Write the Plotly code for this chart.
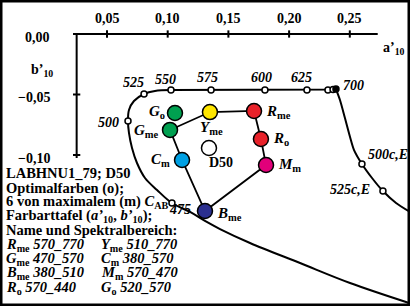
import plotly.graph_objects as go

# ---------------- data ----------------
# optimal colour boundary (a'10, b'10), lower-right branch -> 475 -> 500 -> 525 -> 550
left_a = [0.2988, 0.2502, 0.2090, 0.1678, 0.1431, 0.1307, 0.1184, 0.1035, 0.0912, 0.0813,
          0.0747, 0.0706, 0.0681, 0.0673, 0.0681, 0.0722, 0.0805, 0.0895, 0.1027]
left_b = [-0.2223, -0.2058, -0.1893, -0.1727, -0.1612, -0.1545, -0.1471, -0.1397, -0.1289, -0.1190,
          -0.1066, -0.0942, -0.0818, -0.0719, -0.0628, -0.0554, -0.0496, -0.0471, -0.0463]
# top branch 550 -> 700
top_a = [0.1027, 0.1357, 0.1801, 0.2147, 0.2320, 0.2362, 0.2386]
top_b = [-0.0463, -0.0463, -0.0463, -0.0463, -0.0463, -0.0459, -0.0455]
# right branch 700 -> 500c,E -> 525c,E -> edge
right_a = [0.2386, 0.2419, 0.2460, 0.2502, 0.2535, 0.2600, 0.2683, 0.2773, 0.2881, 0.2996]
right_b = [-0.0455, -0.0545, -0.0694, -0.0851, -0.0959, -0.1074, -0.1190, -0.1298, -0.1397, -0.1471]

# wavelength marks
wl_names = ["475", "500", "525", "550", "575", "600", "625", "", "", "700", "500c,E", "525c,E"]
wl_a = [0.1035, 0.0673, 0.0805, 0.1027, 0.1357, 0.1801, 0.2147, 0.2320, 0.2362, 0.2386, 0.2600, 0.2773]
wl_b = [-0.1397, -0.0719, -0.0496, -0.0463, -0.0463, -0.0463, -0.0463, -0.0463, -0.0459, -0.0455, -0.1074, -0.1298]

# colour samples (hexagon order)
hex_names = ["G", "Y", "R", "R", "M", "B", "C"]
hex_subs = ["me", "me", "me", "o", "m", "me", "m"]
hex_a = [0.1019, 0.1348, 0.1711, 0.1768, 0.1810, 0.1307, 0.1118]
hex_b = [-0.0793, -0.0645, -0.0636, -0.0868, -0.1083, -0.1463, -0.1041]
hex_colors = ["#00A050", "#FFE600", "#E8222A", "#E8222A", "#E2007A", "#2B2F8F", "#00A0E3"]

go_a, go_b = 0.1060, -0.0653       # G_o (not connected)
d50_a, d50_b = 0.1340, -0.0942     # D50 white point

x_ticks = [0.05, 0.10, 0.15, 0.20, 0.25]
x_tick_labels = ["0,05", "0,10", "0,15", "0,20", "0,25"]
y_ticks = [0.00, -0.05, -0.10]
y_tick_labels = ["0,00", "−0,05", "−0,10"]

info_lines = ["LABHNU1_79; D50", "Optimalfarben (o);",
              "6 von maximalem (m) <i>C</i><sub>AB</sub>",
              "Farbarttafel (<i>a’</i><sub>10</sub>, <i>b’</i><sub>10</sub>);",
              "Name und Spektralbereich:"]
range_col1 = [("R", "me", "570_770"), ("G", "me", "470_570"), ("B", "me", "380_510"), ("R", "o", "570_440")]
range_col2 = [("Y", "me", "510_770"), ("C", "m", "380_570"), ("M", "m", "570_470"), ("G", "o", "520_570")]

# ---------------- figure ----------------
W, H = 410, 306
PX_A = 1214.0   # pixels per unit a'
PX_B = 1210.0
A0 = -46.3 / PX_A
xr = [A0, A0 + W / PX_A]
yr = [-(H - 34) / PX_B, 34 / PX_B]
FONT = "Liberation Serif"

fig = go.Figure()

# axes
fig.add_trace(go.Scatter(x=[0.022, 0.273], y=[0, 0], mode="lines",
                         line=dict(color="black", width=2), hoverinfo="skip"))
fig.add_trace(go.Scatter(x=[0.025, 0.025], y=[0, -0.1025], mode="lines",
                         line=dict(color="black", width=2), hoverinfo="skip"))
tx, ty = [], []
for t in x_ticks:
    tx += [t, t, None]
    ty += [0.003, -0.003, None]
for t in y_ticks[1:]:
    tx += [0.022, 0.028, None]
    ty += [t, t, None]
fig.add_trace(go.Scatter(x=tx, y=ty, mode="lines", line=dict(color="black", width=2), hoverinfo="skip"))

# locus
fig.add_trace(go.Scatter(x=left_a, y=left_b, mode="lines",
                         line=dict(color="black", width=2, shape="spline", smoothing=1.0), hoverinfo="skip"))
fig.add_trace(go.Scatter(x=top_a, y=top_b, mode="lines",
                         line=dict(color="black", width=2), hoverinfo="skip"))
fig.add_trace(go.Scatter(x=right_a, y=right_b, mode="lines",
                         line=dict(color="black", width=2, shape="spline", smoothing=0.8), hoverinfo="skip"))
fig.add_trace(go.Scatter(x=wl_a, y=wl_b, mode="markers",
                         marker=dict(size=6, color=["white"] * 9 + ["black"] + ["white"] * 2,
                                     line=dict(color="black", width=1.5)), hoverinfo="skip"))

# hexagon
fig.add_trace(go.Scatter(x=hex_a + [hex_a[0]], y=hex_b + [hex_b[0]], mode="lines",
                         line=dict(color="black", width=1.8), hoverinfo="skip"))
fig.add_trace(go.Scatter(x=hex_a, y=hex_b, mode="markers",
                         marker=dict(size=15, color=hex_colors, line=dict(color="black", width=1.5)),
                         hoverinfo="skip"))
fig.add_trace(go.Scatter(x=[go_a], y=[go_b], mode="markers",
                         marker=dict(size=15, color="#00A050", line=dict(color="black", width=1.5)),
                         hoverinfo="skip"))
fig.add_trace(go.Scatter(x=[d50_a], y=[d50_b], mode="markers",
                         marker=dict(size=15, color="white", line=dict(color="black", width=1.5)),
                         hoverinfo="skip"))

ann = []


def txt(x, y, text, size=14, xanchor="center", yanchor="middle", xshift=0, yshift=0, ref="x"):
    ann.append(dict(x=x, y=y, xref=ref, yref=ref.replace("x", "y"), text=text, showarrow=False,
                    xanchor=xanchor, yanchor=yanchor, xshift=xshift, yshift=yshift,
                    font=dict(family=FONT, size=size, color="black")))


# tick labels
for t, lab in zip(x_ticks, x_tick_labels):
    txt(t, 0, "<b>%s</b>" % lab, yshift=16)
for t, lab in zip(y_ticks, y_tick_labels):
    txt(0.0047, t, "<b>%s</b>" % lab, xanchor="right", yshift=-3)
txt(0.0, -0.03, "<b>b’<sub>10</sub></b>", xanchor="center", xshift=-4, yshift=0)
txt(0.2760, 0, "<b>a’<sub>10</sub></b>", xanchor="left", yshift=-14)

# wavelength labels
wl_shift = {"475": (8, -6), "500": (-20, -1), "525": (-11, 12), "550": (-5, 11), "575": (-4, 13),
            "600": (-3, 13), "625": (-5, 13), "700": (18, 4), "500c,E": (26, 9), "525c,E": (-33, 2)}
for n, a, b in zip(wl_names, wl_a, wl_b):
    if n:
        dx, dy = wl_shift[n]
        txt(a, b, "<b><i>%s</i></b>" % n, size=14, xshift=dx, yshift=dy)

# sample labels
lab_pos = [("right", -9, -1), ("center", 2, -16), ("left", 10, -1), ("left", 10, 0),
           ("left", 10, 0), ("left", 10, -3), ("right", -10, 0)]
for n, s, a, b, (anc, dx, dy) in zip(hex_names, hex_subs, hex_a, hex_b, lab_pos):
    txt(a, b, "<b><i>%s</i><sub>%s</sub></b>" % (n, s), size=15, xanchor=anc, xshift=dx, yshift=dy)
txt(go_a, go_b, "<b><i>G</i><sub>o</sub></b>", size=15, xanchor="right", xshift=-8, yshift=1)
txt(d50_a, d50_b, "<b>D50</b>", size=14, xanchor="left", xshift=-2, yshift=-15)

# info block (paper coordinates from pixel positions)
def pp(px, py):
    return px / W, 1 - py / H


rows_y = [173, 188, 202, 216, 230]
for line, py in zip(info_lines, rows_y):
    x, y = pp(4, py)
    txt(x, y, "<b>%s</b>" % line, size=14.5, xanchor="left", ref="paper")
for i, py in enumerate([245, 259, 273, 288]):
    for col, px in ((range_col1, 4), (range_col2, 99)):
        n, s, r = col[i]
        x, y = pp(px, py)
        txt(x, y, "<b><i>%s</i><sub>%s</sub> <i>%s</i></b>" % (n, s, r), size=14.5, xanchor="left", ref="paper")

fig.update_layout(
    width=W, height=H, margin=dict(l=0, r=0, t=0, b=0),
    paper_bgcolor="white", plot_bgcolor="white", showlegend=False,
    xaxis=dict(range=xr, visible=False, fixedrange=True),
    yaxis=dict(range=yr, visible=False, fixedrange=True),
    annotations=ann,
    shapes=[dict(type="rect", xref="paper", yref="paper", x0=0, y0=0, x1=1, y1=1,
                 line=dict(color="black", width=5))],
)
fig.write_html("out.html", config={"displayModeBar": False},
               post_script="document.body.style.margin='0';document.body.style.overflow='hidden';")
